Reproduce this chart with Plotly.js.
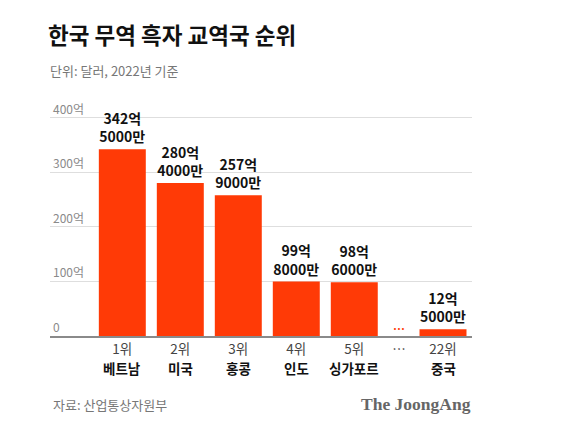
<!DOCTYPE html>
<html>
<head>
<meta charset="utf-8">
<script src="https://cdn.plot.ly/plotly-3.0.1.min.js"></script>
<style>
  html, body { margin: 0; padding: 0; background: #fff; }
  #chart { width: 568px; height: 432px; }
</style>
</head>
<body>
<div id="chart"></div>
<script>
// Trade surplus partners, 2022 (unit: 억 달러)
const ranks = ['1위', '2위', '3위', '4위', '5위', '22위'];
const countries = ['베트남', '미국', '홍콩', '인도', '싱가포르', '중국'];
const surplus = [342.5, 280.4, 257.9, 99.8, 98.6, 12.5];
const yTickVals = [0, 100, 200, 300, 400];
const yTickText = ['0', '100억', '200억', '300억', '400억'];

// Slot layout along the x axis: five leading ranks, a gap marker, then rank 22
const slotX = [1, 2, 3, 4, 5, 6.53];
const gapX = 5.77;

const FONT = '"Noto Sans CJK KR", "Noto Sans", sans-serif';
const BAR_RED = '#ff3a06';

// "342억<br>5000만" style label from a value in 억
function fmtLabel(v) {
  const eok = Math.floor(v);
  const man = Math.round((v - eok) * 10000);
  return '<b>' + eok + '억<br>' + man + '만</b>';
}

// Plot area in pixels, used to place the free text around it
const W = 568, H = 432;
const M = { l: 50, r: 96, t: 95.8, b: 95.5 };
const pw = W - M.l - M.r, ph = H - M.t - M.b;
const px = x => (x - M.l) / pw;
const py = y => (H - M.b - y) / ph;

// Rank row sits on the axis ticks; the "…" gap gets its own tick
const tickVals = slotX.slice(0, 5).concat([gapX, slotX[5]]);
const tickText = ranks.slice(0, 5).concat(['…', ranks[5]]);

const trace = {
  type: 'bar',
  x: slotX,
  y: surplus,
  width: 0.81,
  marker: { color: BAR_RED },
  text: surplus.map(fmtLabel),
  textposition: 'outside',
  textfont: { family: FONT, size: 14, color: '#111' },
  constraintext: 'none',
  cliponaxis: false,
  hoverinfo: 'skip'
};

// Country names under the rank row
const nameNotes = countries.map((c, i) => ({
  text: '<b>' + c + '</b>',
  xref: 'x', yref: 'y',
  x: slotX[i], y: 0,
  xanchor: 'center', yanchor: 'middle',
  yshift: -32,
  showarrow: false,
  font: { family: FONT, size: 13.5, color: '#111' }
}));

const layout = {
  width: W,
  height: H,
  margin: M,
  paper_bgcolor: '#fff',
  plot_bgcolor: '#fff',
  showlegend: false,
  font: { family: FONT, color: '#111' },
  title: {
    text: '<b>한국 무역 흑자 교역국 순위</b>',
    font: { family: FONT, size: 22.5, color: '#111' },
    xref: 'container', yref: 'container',
    x: 48 / W, xanchor: 'left',
    y: 1 - 36 / H, yanchor: 'middle'
  },
  xaxis: {
    range: [-0.247, 7.03],
    tickvals: tickVals,
    ticktext: tickText,
    tickfont: { family: FONT, size: 13.5, color: '#444' },
    ticks: '',
    showgrid: false,
    zeroline: false,
    showline: true,
    linecolor: '#8a8a8a',
    linewidth: 2,
    fixedrange: true
  },
  yaxis: {
    range: [0, 400 * (H - M.b - M.t) / (H - M.b - 117.7)],
    tickvals: yTickVals,
    ticktext: yTickText,
    ticklabelposition: 'inside top',
    ticklabelstandoff: 0,
    tickfont: { family: FONT, size: 12, color: '#8a8a8a' },
    ticks: '',
    showgrid: true,
    gridcolor: '#dedede',
    gridwidth: 1,
    zeroline: false,
    showline: false,
    fixedrange: true
  },
  annotations: nameNotes.concat([
    {
      text: '단위: 달러, 2022년 기준',
      xref: 'paper', yref: 'paper',
      x: px(48), y: py(70), xanchor: 'left', yanchor: 'middle',
      showarrow: false,
      font: { family: FONT, size: 13, color: '#777' }
    },
    {
      text: '<b>…</b>',
      xref: 'x', yref: 'y',
      x: gapX, y: 0, xanchor: 'center', yanchor: 'bottom',
      yshift: -3,
      showarrow: false,
      font: { family: FONT, size: 12, color: BAR_RED }
    },
    {
      text: '자료: 산업통상자원부',
      xref: 'paper', yref: 'paper',
      x: px(51), y: py(405), xanchor: 'left', yanchor: 'middle',
      showarrow: false,
      font: { family: FONT, size: 13, color: '#777' }
    },
    {
      text: '<b>The JoongAng</b>',
      xref: 'paper', yref: 'paper',
      x: px(473), y: py(405), xanchor: 'right', yanchor: 'middle',
      showarrow: false,
      font: { family: '"Liberation Serif", "DejaVu Serif", serif', size: 17.5, color: '#666' }
    }
  ])
};

Plotly.newPlot('chart', [trace], layout, { displayModeBar: false, staticPlot: true });
</script>
</body>
</html>
